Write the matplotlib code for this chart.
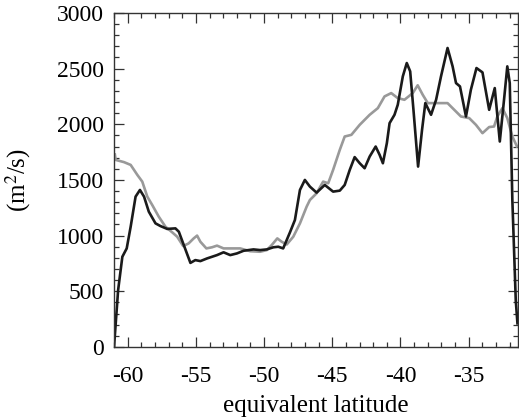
import numpy as np
import matplotlib
matplotlib.use("Agg")
import matplotlib.pyplot as plt
from matplotlib.ticker import MultipleLocator

# black curve: diffusivity vs equivalent latitude
lat_black = [-61.0, -60.7, -60.39, -60.07, -59.78, -59.42, -59.1, -58.8, -58.45, -57.96,
             -57.6, -57.1, -56.5, -56.25, -55.84, -55.4, -55.04, -54.67, -54.18, -53.45,
             -52.97, -52.48, -51.99, -51.5, -50.78, -50.29, -49.8, -49.32, -48.96, -48.6,
             -48.1, -47.74, -47.37, -47.01, -46.64, -46.15, -45.55, -44.94, -44.45, -44.09,
             -43.72, -43.36, -42.99, -42.63, -42.26, -41.82, -41.53, -41.29, -41.0, -40.8,
             -40.44, -40.2, -39.83, -39.54, -39.29, -39.05, -38.71, -38.42, -38.18, -37.76,
             -37.39, -37.03, -36.55, -36.18, -35.93, -35.64, -35.2, -34.84, -34.43, -33.99,
             -33.5, -33.09, -32.72, -32.41, -32.17, -31.99, -31.8, -31.55, -31.42]
k_black = [0, 510, 810, 885, 1080, 1350, 1410, 1350, 1215, 1110,
           1086, 1060, 1065, 1035, 900, 755, 780, 771, 795, 825,
           850, 825, 840, 864, 876, 870, 876, 895, 900, 885,
           1030, 1140, 1410, 1500, 1440, 1386, 1455, 1395, 1404, 1455,
           1590, 1705, 1650, 1605, 1710, 1800, 1725, 1650, 1830, 2010,
           2085, 2175, 2430, 2550, 2475, 2130, 1620, 1950, 2190, 2085,
           2220, 2430, 2685, 2520, 2370, 2340, 2070, 2310, 2505, 2466,
           2130, 2325, 1845, 2220, 2520, 2370, 1320, 420, 200]

# gray curve
lat_gray = [-60.95, -60.88, -60.27, -59.78, -59.29, -58.93, -58.56, -58.2, -57.72, -57.23,
            -56.74, -56.37, -55.93, -55.53, -55.16, -54.91, -54.67, -54.23, -53.82, -53.45,
            -52.97, -52.24, -51.75, -51.02, -50.29, -49.8, -49.44, -49.03, -48.71, -48.34,
            -47.86, -47.37, -46.88, -46.64, -46.15, -45.67, -45.3, -44.94, -44.45, -44.09,
            -43.6, -42.99, -42.26, -41.66, -41.17, -40.68, -40.2, -39.71, -39.1, -38.74,
            -38.37, -38.0, -37.39, -36.55, -36.06, -35.57, -34.96, -34.47, -33.99, -33.5,
            -33.14, -32.9, -32.53, -32.17, -31.8, -31.42]
k_gray = [1740, 1680, 1660, 1635, 1545, 1485, 1350, 1275, 1170, 1080,
          1030, 990, 906, 930, 975, 1000, 945, 885, 895, 910,
          885, 885, 885, 860, 855, 870, 915, 975, 945, 920,
          990, 1110, 1260, 1320, 1380, 1485, 1470, 1590, 1770, 1890,
          1905, 1995, 2085, 2145, 2250, 2280, 2235, 2220, 2280, 2350,
          2265, 2190, 2190, 2190, 2130, 2070, 2055, 1995, 1920, 1975,
          1980, 2070, 2145, 2055, 1890, 1790]

x_ticks = [-60, -55, -50, -45, -40, -35]
y_ticks = [0, 500, 1000, 1500, 2000, 2500, 3000]

plt.rcParams['font.family'] = ['Liberation Serif', 'DejaVu Serif']
plt.rcParams['mathtext.fontset'] = 'stix'

fig = plt.figure(figsize=(5.19, 4.17), dpi=100)
ax = fig.add_axes([0.2197, 0.168, 0.778, 0.801])

ax.plot(lat_gray, k_gray, color='#999999', lw=1.9, solid_capstyle='butt')
ax.plot(lat_black, k_black, color='#1a1a1a', lw=1.9, solid_capstyle='butt')

ax.set_xlim(-61.0, -31.4)
ax.set_ylim(0, 3000)
ax.set_xticks(x_ticks)
ax.set_xticklabels([str(t) for t in x_ticks])
ax.set_yticks(y_ticks)
ax.xaxis.set_minor_locator(MultipleLocator(1))
ax.yaxis.set_minor_locator(MultipleLocator(100))
ax.tick_params(which='both', direction='in', top=True, right=True,
               labelsize=17, width=0.9, color='#333333')
ax.tick_params(which='major', length=7)
ax.tick_params(which='minor', length=3.5)
ax.tick_params(axis='x', which='major', pad=14)
ax.tick_params(axis='y', which='major', pad=7)
for s in ax.spines.values():
    s.set_linewidth(1.0)
    s.set_color('#333333')

ax.set_xlabel('equivalent latitude', fontsize=18)
ax.set_ylabel('(m$^2$/s)', fontsize=18)
ax.xaxis.set_label_coords(0.5, -0.145)
ax.yaxis.set_label_coords(-0.2, 0.5)

fig.savefig('out.png', dpi=100)
